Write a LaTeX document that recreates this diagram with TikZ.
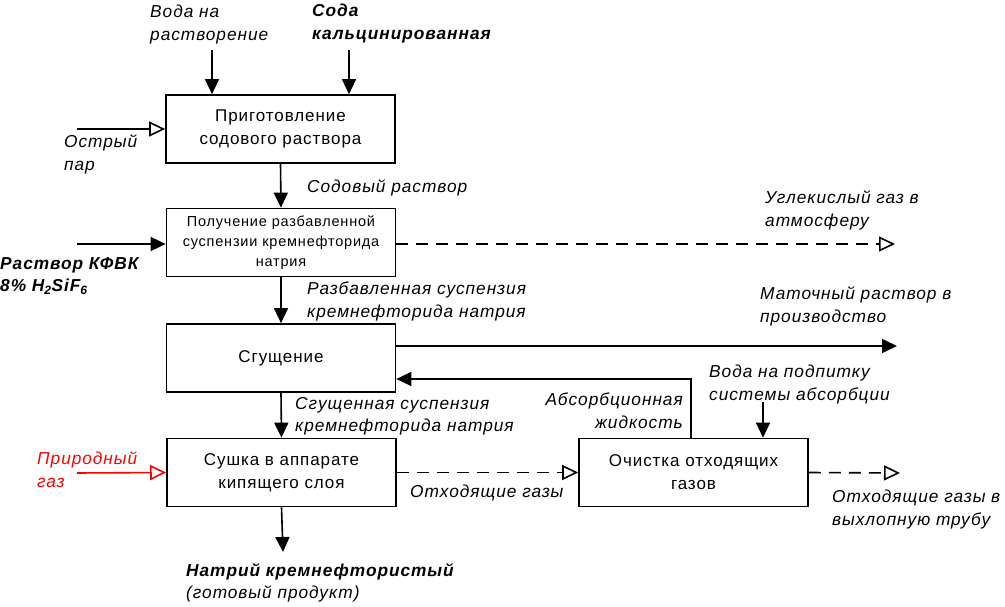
\documentclass[tikz,border=0pt]{standalone}
\usepackage{fontspec}
\setmainfont{Liberation Sans}[LetterSpace=5.5]
\usetikzlibrary{arrows.meta}
\begin{document}
\begin{tikzpicture}[x=1pt,y=-1pt,
  proc/.style={draw, line width=1.7pt, minimum width=229pt, minimum height=68pt, align=center, inner sep=0pt, font=\fontsize{17}{23}\selectfont},
  procs/.style={proc, font=\fontsize{14.5}{20}\selectfont},
  lbl/.style={anchor=north west, inner sep=0pt, align=left, font=\fontsize{17.3}{22.5}\selectfont\itshape},
  lblb/.style={lbl, font=\fontsize{17.3}{22.5}\selectfont\bfseries\itshape},
  flow/.style={line width=1.6pt, -{Triangle[length=15pt,width=14pt]}},
  openflow/.style={line width=1.6pt, -{Triangle[open,length=16pt,width=15pt,fill=white]}},
  gasflow/.style={openflow, dash pattern=on 12pt off 8pt}]
\useasboundingbox (0,0) rectangle (1005,607);

% process boxes
\node[proc]  (b1) at (280.5,129)   {Приготовление\\содового раствора};
\node[procs] (b2) at (281,242.5)   {Получение разбавленной\\суспензии кремнефторида\\натрия};
\node[proc]  (b3) at (281,358)     {Сгущение};
\node[proc]  (b4) at (281.5,472.5) {Сушка в аппарате\\кипящего слоя};
\node[proc]  (b5) at (693.5,472.5) {Очистка отходящих\\газов};

% labels
\node[lbl]  (lw)  at (150,5)   {Вода на\\растворение};
\node[lblb] (ls)  at (312,4)   {Сода\\кальцинированная};
\node[lbl]  (lp)  at (64,135)  {Острый\\пар};
\node[lbl]  (lsr) at (307,180) {Содовый раствор};
\node[lblb] (lk)  at (0,257)   {Раствор КФВК\\8\% H\textsubscript{2}SiF\textsubscript{6}};
\node[lbl]  (lco) at (765,191) {Углекислый газ в\\атмосферу};
\node[lbl]  (lrs) at (307,282) {Разбавленная суспензия\\кремнефторида натрия};
\node[lbl]  (lm)  at (760,287) {Маточный раствор в\\производство};
\node[lbl]  (lgs) at (295,397) {Сгущенная суспензия\\кремнефторида натрия};
\node[lbl, anchor=north east, align=right] (la) at (683,393) {Абсорбционная\\жидкость};
\node[lbl]  (lv)  at (709,365) {Вода на подпитку\\системы абсорбции};
\node[lbl, text=red] (lng) at (37,452) {Природный\\газ};
\node[lbl]  (log) at (410,485) {Отходящие газы};
\node[lbl]  (lot) at (832,490) {Отходящие газы в\\выхлопную трубу};
\node[lblb] (lpr) at (186,563) {Натрий кремнефтористый\\\mdseries(готовый продукт)};

% free ends
\coordinate (w0) at (212,50);
\coordinate (s0) at (349,50);
\coordinate (p0) at (77,129);
\coordinate (k0) at (77,244);
\coordinate (co) at (895,244);
\coordinate (m0) at (396,346);
\coordinate (m1) at (897,346);
\coordinate (ng) at (77,473);
\coordinate (ot) at (900,473);
\coordinate (pr) at (283,552);
\coordinate (ab) at (691,379);
\coordinate (v0) at (763,402);

% connectors
\draw[flow] (w0) -- (w0 |- b1.north);
\draw[flow] (s0) -- (s0 |- b1.north);
\draw[openflow] (p0) -- (b1.west);
\draw[flow] (b1.south) -- (b2.north);
\draw[flow] (k0) -- (k0 -| b2.west);
\draw[gasflow] (co -| b2.east) -- (co);
\draw[flow] (b2.south) -- (b3.north);
\draw[flow] (m0) -- (m1);
\draw[flow] (ab |- b5.north) -- (ab) -- (ab -| b3.east);
\draw[flow] (v0) -- (v0 |- b5.north);
\draw[flow] (b3.south) -- (b4.north);
\draw[openflow, red] (ng) -- (b4.west);
\draw[gasflow] (b4.east) -- (b5.west);
\draw[gasflow] (b5.east) -- (ot);
\draw[flow] (b4.south) -- (pr);
\end{tikzpicture}
\end{document}
